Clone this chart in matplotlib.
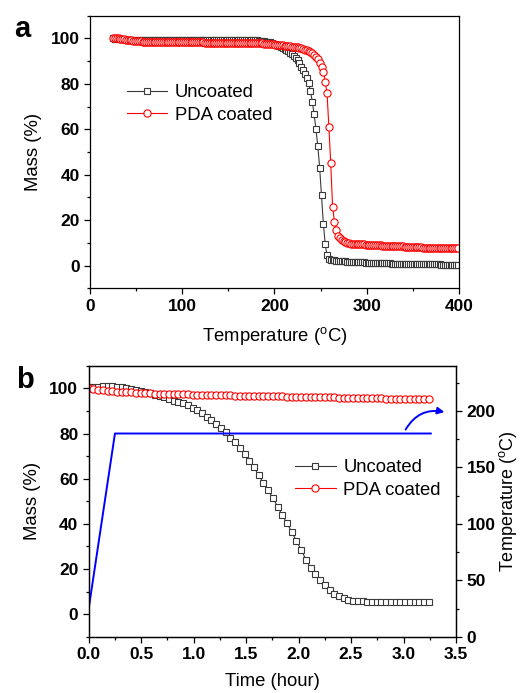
import numpy as np
import matplotlib
matplotlib.use("Agg")
import matplotlib.pyplot as plt
from matplotlib.ticker import MultipleLocator

plt.rcParams['font.family'] = ['Liberation Sans', 'DejaVu Sans']
plt.rcParams['mathtext.fontset'] = 'custom'
plt.rcParams['mathtext.rm'] = 'Liberation Sans'
plt.rcParams['mathtext.it'] = 'Liberation Sans:italic'
plt.rcParams['mathtext.bf'] = 'Liberation Sans:bold'

# ---- panel a: TGA ramp, mass (%) vs temperature (degC), sampled every 2 degC
temp_a = np.arange(25, 400, 2)

uncoated_a = [
    100.0, 99.9, 99.8, 99.7, 99.7, 99.6, 99.6, 99.5, 99.5, 99.5,
    99.5, 99.4, 99.4, 99.4, 99.4, 99.4, 99.4, 99.4, 99.4, 99.4,
    99.4, 99.4, 99.4, 99.4, 99.4, 99.4, 99.4, 99.4, 99.4, 99.4,
    99.4, 99.4, 99.4, 99.4, 99.4, 99.3, 99.3, 99.3, 99.3, 99.3,
    99.3, 99.3, 99.3, 99.3, 99.3, 99.3, 99.3, 99.3, 99.3, 99.3,
    99.3, 99.3, 99.3, 99.3, 99.3, 99.3, 99.3, 99.3, 99.3, 99.3,
    99.3, 99.3, 99.3, 99.3, 99.3, 99.3, 99.3, 99.3, 99.3, 99.3,
    99.3, 99.3, 99.2, 99.2, 99.2, 99.2, 99.1, 99.1, 99.1, 99.0,
    99.0, 98.9, 98.8, 98.6, 98.4, 98.2, 98.0, 97.7, 97.4, 97.1,
    96.7, 96.3, 95.9, 95.4, 94.9, 94.3, 93.7, 93.0, 92.2, 91.3,
    90.3, 89.1, 87.6, 86.0, 84.4, 82.6, 80.2, 76.8, 72.2, 66.5,
    60.0, 52.5, 43.0, 31.0, 18.5, 9.5, 4.5, 3.0, 2.6, 2.4,
    2.3, 2.2, 2.1, 2.0, 1.9, 1.8, 1.8, 1.7, 1.7, 1.6,
    1.6, 1.5, 1.5, 1.5, 1.4, 1.4, 1.4, 1.3, 1.3, 1.3,
    1.2, 1.2, 1.2, 1.1, 1.1, 1.1, 1.1, 1.0, 1.0, 1.0,
    1.0, 0.9, 0.9, 0.9, 0.9, 0.8, 0.8, 0.8, 0.8, 0.8,
    0.7, 0.7, 0.7, 0.7, 0.7, 0.6, 0.6, 0.6, 0.6, 0.6,
    0.6, 0.5, 0.5, 0.5, 0.5, 0.5, 0.5, 0.5, 0.4, 0.4,
    0.4, 0.4, 0.4, 0.4, 0.4, 0.3, 0.3, 0.3,
]

pda_a = [
    100.2, 100.2, 100.1, 100.0, 99.9, 99.8, 99.6, 99.5, 99.3, 99.2,
    99.1, 99.0, 98.9, 98.8, 98.7, 98.7, 98.6, 98.6, 98.5, 98.5,
    98.5, 98.4, 98.4, 98.4, 98.4, 98.3, 98.3, 98.3, 98.3, 98.3,
    98.3, 98.3, 98.2, 98.2, 98.2, 98.2, 98.2, 98.2, 98.2, 98.2,
    98.2, 98.2, 98.2, 98.2, 98.2, 98.2, 98.2, 98.2, 98.2, 98.2,
    98.1, 98.1, 98.1, 98.1, 98.1, 98.1, 98.1, 98.1, 98.1, 98.1,
    98.1, 98.1, 98.1, 98.1, 98.1, 98.1, 98.1, 98.1, 98.1, 98.1,
    98.1, 98.1, 98.0, 98.0, 98.0, 98.0, 98.0, 97.9, 97.9, 97.9,
    97.8, 97.8, 97.7, 97.7, 97.6, 97.6, 97.5, 97.4, 97.3, 97.2,
    97.1, 97.0, 96.9, 96.8, 96.7, 96.6, 96.5, 96.4, 96.3, 96.2,
    96.0, 95.8, 95.6, 95.3, 95.0, 94.7, 94.3, 93.9, 93.4, 92.9,
    91.9, 90.8, 89.3, 87.5, 85.3, 81.0, 75.8, 61.0, 45.0, 26.0,
    19.3, 15.5, 13.2, 12.1, 11.3, 10.8, 10.4, 10.1, 9.9, 9.7,
    9.6, 9.5, 9.5, 9.4, 9.4, 9.3, 9.3, 9.2, 9.2, 9.1,
    9.1, 9.0, 9.0, 9.0, 8.9, 8.9, 8.8, 8.8, 8.7, 8.7,
    8.7, 8.6, 8.6, 8.5, 8.5, 8.4, 8.4, 8.4, 8.3, 8.3,
    8.2, 8.2, 8.2, 8.1, 8.1, 8.0, 8.0, 8.0, 7.9, 7.9,
    7.9, 7.9, 7.8, 7.8, 7.8, 7.8, 7.7, 7.7, 7.7, 7.7,
    7.7, 7.6, 7.6, 7.6, 7.6, 7.6, 7.6, 7.6,
]

# ---- panel b: isothermal hold, mass (%) vs time (hour), one sample every 2.7 min
time_b = np.round(np.arange(73) * 0.045, 3)

uncoated_b = [
    100.4, 100.6, 100.8, 100.9, 101.0, 100.9, 100.7, 100.4, 100.0, 99.6,
    99.2, 98.8, 98.3, 97.8, 97.2, 96.6, 96.0, 95.3, 94.5, 93.9,
    93.4, 92.5, 91.5, 90.3, 88.9, 87.5, 85.9, 84.4, 82.6, 80.5,
    78.1, 76.3, 73.8, 71.0, 68.0, 65.0, 61.6, 58.0, 54.8, 51.5,
    47.6, 43.9, 40.2, 36.4, 32.4, 28.4, 24.2, 20.4, 17.9, 15.2,
    13.0, 10.8, 9.1, 8.0, 7.1, 6.4, 6.0, 5.8, 5.7, 5.6,
    5.6, 5.6, 5.6, 5.6, 5.5, 5.5, 5.5, 5.5, 5.5, 5.5,
    5.5, 5.5, 5.5,
]

pda_b = [
    100.0, 99.6, 99.3, 99.1, 98.9, 98.7, 98.6, 98.4, 98.3, 98.2,
    98.1, 98.0, 97.9, 97.8, 97.7, 97.6, 97.55, 97.5, 97.45, 97.4,
    97.35, 97.3, 97.25, 97.2, 97.15, 97.1, 97.05, 97.0, 96.95, 96.9,
    96.85, 96.8, 96.75, 96.7, 96.65, 96.6, 96.6, 96.55, 96.5, 96.45,
    96.4, 96.4, 96.35, 96.3, 96.3, 96.25, 96.2, 96.15, 96.1, 96.05,
    96.0, 96.0, 95.95, 95.9, 95.85, 95.8, 95.8, 95.75, 95.7, 95.65,
    95.6, 95.6, 95.55, 95.5, 95.5, 95.45, 95.4, 95.4, 95.35, 95.3,
    95.3, 95.25, 95.2,
]

# furnace temperature program (right axis)
ramp_time = [0.0, 0.25, 3.26]
ramp_temp = [25, 180, 180]

TICK_FS = 12.5
LABEL_FS = 13.3
GRAY = '#3a3a3a'


def style_axis(ax, xmaj, xmin, ymaj, ymin):
    ax.xaxis.set_major_locator(MultipleLocator(xmaj))
    ax.xaxis.set_minor_locator(MultipleLocator(xmin))
    ax.yaxis.set_major_locator(MultipleLocator(ymaj))
    ax.yaxis.set_minor_locator(MultipleLocator(ymin))
    ax.tick_params(which='both', direction='out', width=0.9, labelsize=TICK_FS,
                   top=False, right=False, pad=3)
    ax.tick_params(which='major', length=4.5)
    ax.tick_params(which='minor', length=2.5)
    for s in ax.spines.values():
        s.set_linewidth(0.9)
    for lbl in ax.get_xticklabels() + ax.get_yticklabels():
        lbl.set_fontweight('bold')


fig = plt.figure(figsize=(5.2, 6.93), dpi=100)

# ---------------- a
ax1 = fig.add_axes([0.173, 0.584, 0.7096, 0.3934])
ax1.plot(temp_a, uncoated_a, color=GRAY, lw=0.8, marker='s', ms=4.6,
         mfc='white', mec=GRAY, mew=0.8, label='Uncoated')
ax1.plot(temp_a, pda_a, color='red', lw=0.8, marker='o', ms=5.2,
         mfc='white', mec='red', mew=0.8, label='PDA coated')
ax1.set_xlim(0, 400)
ax1.set_ylim(-10, 110)
style_axis(ax1, 100, 50, 20, 10)
ax1.set_xlabel(r'Temperature ($^{\rm o}$C)', fontsize=LABEL_FS, labelpad=8)
ax1.set_ylabel('Mass (%)', fontsize=LABEL_FS, labelpad=6)
ax1.legend(loc='center left', bbox_to_anchor=(0.10, 0.676), frameon=False,
           fontsize=LABEL_FS, handlelength=2.2, handletextpad=0.4,
           labelspacing=0.3, borderpad=0, borderaxespad=0)
fig.text(0.027, 0.947, 'a', fontsize=21, fontweight='bold', va='baseline')

# ---------------- b
ax2 = fig.add_axes([0.1706, 0.0812, 0.7063, 0.391])
ax2r = ax2.twinx()
ax2.plot(time_b, uncoated_b, color=GRAY, lw=0.8, marker='s', ms=4.6,
         mfc='white', mec=GRAY, mew=0.8, label='Uncoated')
ax2.plot(time_b, pda_b, color='red', lw=0.8, marker='o', ms=5.2,
         mfc='white', mec='red', mew=0.8, label='PDA coated')
ax2.set_xlim(0, 3.5)
ax2.set_ylim(-10, 110)
style_axis(ax2, 0.5, 0.25, 20, 10)
ax2.xaxis.set_major_formatter(matplotlib.ticker.FormatStrFormatter('%.1f'))
for lbl in ax2.get_xticklabels():
    lbl.set_fontweight('bold')
ax2.set_xlabel('Time (hour)', fontsize=LABEL_FS, labelpad=8)
ax2.set_ylabel('Mass (%)', fontsize=LABEL_FS, labelpad=6)
ax2.legend(loc='center left', bbox_to_anchor=(0.562, 0.583), frameon=False,
           fontsize=LABEL_FS, handlelength=2.2, handletextpad=0.4,
           labelspacing=0.3, borderpad=0, borderaxespad=0)

ax2r.plot(ramp_time, ramp_temp, color='blue', lw=1.4)
ax2r.set_ylim(0, 240)
ax2r.yaxis.set_major_locator(MultipleLocator(50))
ax2r.yaxis.set_minor_locator(MultipleLocator(25))
ax2r.tick_params(which='both', direction='out', width=0.9, labelsize=TICK_FS, pad=3)
ax2r.tick_params(which='major', length=4.5)
ax2r.tick_params(which='minor', length=2.5)
for lbl in ax2r.get_yticklabels():
    lbl.set_fontweight('bold')
for s in ax2r.spines.values():
    s.set_linewidth(0.9)
ax2r.set_ylabel(r'Temperature ($^{\rm o}$C)', fontsize=13, labelpad=1)
ax2r.annotate('', xy=(3.39, 199), xytext=(3.02, 183.5),
              arrowprops=dict(arrowstyle='-|>', color='blue', lw=1.4,
                              mutation_scale=10, shrinkA=0, shrinkB=0,
                              connectionstyle='arc3,rad=-0.35'))
fig.text(0.031, 0.44, 'b', fontsize=21, fontweight='bold', va='baseline')

fig.savefig('out.png', dpi=100)
